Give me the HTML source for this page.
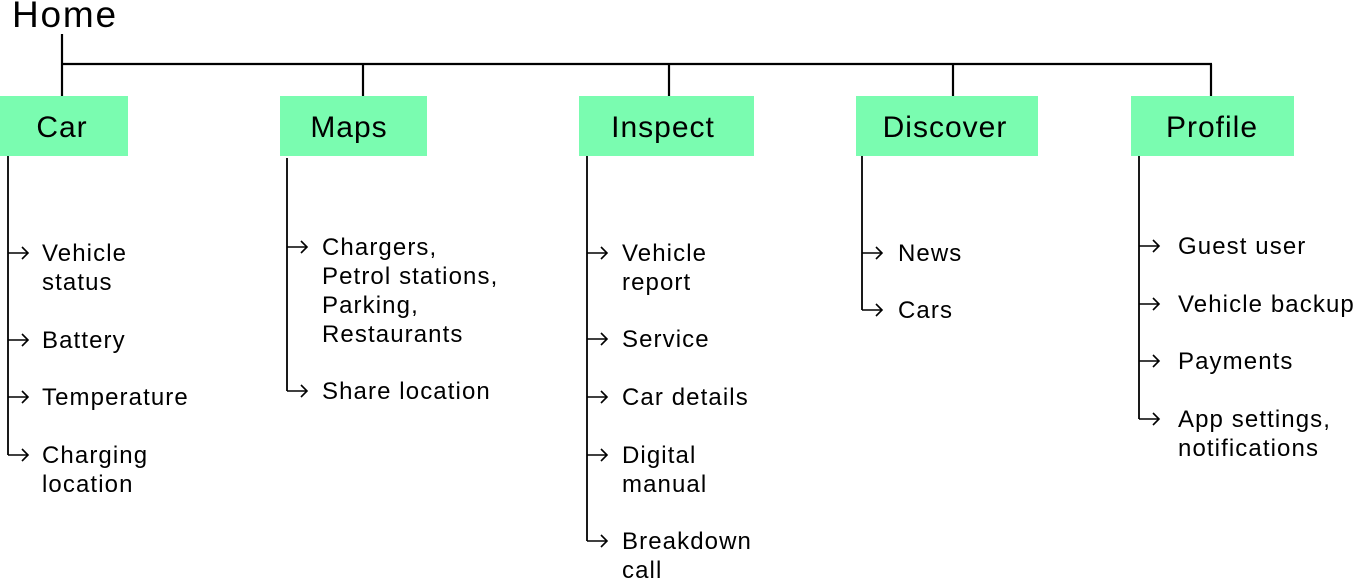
<!DOCTYPE html>
<html><head><meta charset="utf-8"><style>
html,body{margin:0;padding:0;background:#fff;width:1354px;height:578px;overflow:hidden}
svg{display:block}
text{font-family:"Liberation Sans",Arial,sans-serif;fill:#000}
.it{font-size:24px;letter-spacing:1.1px}
.bx{font-size:30px;letter-spacing:1px}
</style></head><body>
<svg width="1354" height="578" viewBox="0 0 1354 578" xmlns="http://www.w3.org/2000/svg">
<defs>
<g id="ar"><line x1="0" y1="0" x2="20" y2="0" stroke="#000" stroke-width="1.6"/><polyline points="14,-6 20,0 14,6" fill="none" stroke="#000" stroke-width="1.6"/></g>
</defs>
<text x="12" y="27" style="font-size:37px;letter-spacing:1.8px">Home</text>
<g stroke="#000" stroke-width="2.2" fill="none">
<line x1="62" y1="34" x2="62" y2="96"/>
<line x1="61" y1="64" x2="1212" y2="64"/>
<line x1="363" y1="64" x2="363" y2="96"/>
<line x1="669" y1="64" x2="669" y2="96"/>
<line x1="953" y1="64" x2="953" y2="96"/>
<line x1="1211" y1="64" x2="1211" y2="96"/>
</g>
<g fill="#7afcb0">
<rect x="0" y="96" width="128" height="60"/>
<rect x="280" y="96" width="147" height="60"/>
<rect x="579" y="96" width="175" height="60"/>
<rect x="856" y="96" width="182" height="60"/>
<rect x="1131" y="96" width="163" height="60"/>
</g>
<g class="bx" text-anchor="middle">
<text x="62" y="137">Car</text>
<text x="349" y="137">Maps</text>
<text x="663" y="137">Inspect</text>
<text x="945" y="137">Discover</text>
<text x="1212" y="137">Profile</text>
</g>
<g stroke="#000" stroke-width="1.8">
<line x1="8" y1="156" x2="8" y2="455"/>
<line x1="287" y1="158" x2="287" y2="391"/>
<line x1="587" y1="156" x2="587" y2="541"/>
<line x1="862" y1="156" x2="862" y2="310"/>
<line x1="1139" y1="156" x2="1139" y2="419"/>
</g>
<g>
<use href="#ar" x="8" y="253"/><use href="#ar" x="8" y="340"/><use href="#ar" x="8" y="397"/><use href="#ar" x="8" y="455"/>
<use href="#ar" x="287" y="247"/><use href="#ar" x="287" y="391"/>
<use href="#ar" x="587" y="253"/><use href="#ar" x="587" y="339"/><use href="#ar" x="587" y="397"/><use href="#ar" x="587" y="455"/><use href="#ar" x="587" y="541"/>
<use href="#ar" x="862" y="253"/><use href="#ar" x="862" y="310"/>
<use href="#ar" x="1139" y="246"/><use href="#ar" x="1139" y="304"/><use href="#ar" x="1139" y="361"/><use href="#ar" x="1139" y="419"/>
</g>
<g class="it">
<text x="42" y="261">Vehicle</text><text x="42" y="290">status</text>
<text x="42" y="348">Battery</text>
<text x="42" y="405">Temperature</text>
<text x="42" y="463">Charging</text><text x="42" y="492">location</text>

<text x="322" y="255">Chargers,</text><text x="322" y="284">Petrol stations,</text><text x="322" y="313">Parking,</text><text x="322" y="342">Restaurants</text>
<text x="322" y="399">Share location</text>

<text x="622" y="261">Vehicle</text><text x="622" y="290">report</text>
<text x="622" y="347">Service</text>
<text x="622" y="405">Car details</text>
<text x="622" y="463">Digital</text><text x="622" y="492">manual</text>
<text x="622" y="549">Breakdown</text><text x="622" y="578">call</text>

<text x="898" y="261">News</text>
<text x="898" y="318">Cars</text>

<text x="1178" y="254">Guest user</text>
<text x="1178" y="312">Vehicle backup</text>
<text x="1178" y="369">Payments</text>
<text x="1178" y="427">App settings,</text><text x="1178" y="456">notifications</text>
</g>
</svg>
</body></html>
